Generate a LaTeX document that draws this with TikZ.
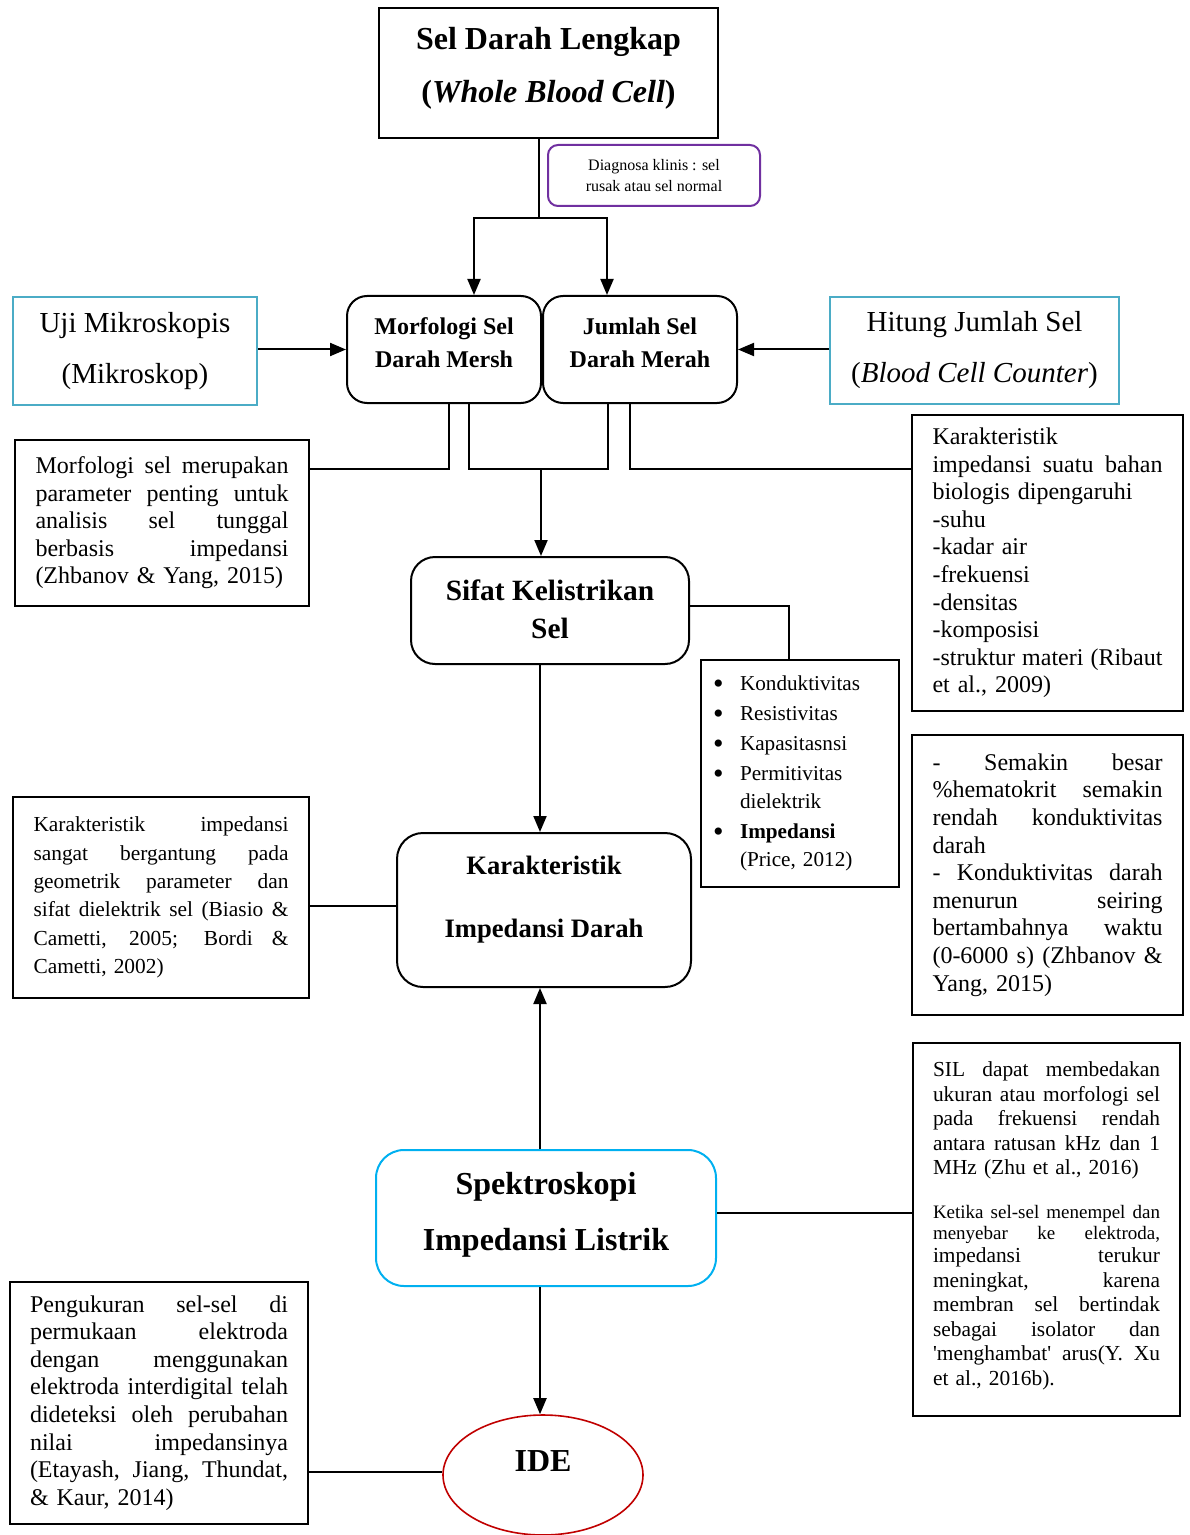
\documentclass[tikz,border=0pt]{standalone}
\usepackage{fontspec}
\setmainfont{Liberation Serif}
\usetikzlibrary{arrows.meta,shapes.geometric}
\definecolor{purp}{HTML}{7030A0}
\definecolor{ujiblue}{HTML}{4BACC6}
\definecolor{spekblue}{HTML}{00B0F0}
\definecolor{idered}{HTML}{C00000}
\newlength{\jw}
\newcommand{\J}[1]{\leavevmode\hbox to \jw{\spaceskip=0pt\xspaceskip=0pt #1}}
\newcommand{\BL}{\makebox[13.5pt][l]{\raisebox{-1.2pt}{\fontsize{15}{14}\selectfont\textbullet}}}
\newcommand{\BI}{\hspace*{13.5pt}}
\begin{document}
\begin{tikzpicture}[x=0.5pt,y=-0.5pt,
  box/.style={draw, line width=1pt, rectangle, inner sep=0pt},
  rbox/.style={draw, line width=1pt, rectangle, rounded corners=#1, inner sep=0pt},
  lbl/.style={inner sep=0pt, align=center},
  conn/.style={line width=1pt},
  arr/.style={line width=1pt, -{Triangle[length=8pt,width=6.5pt]}},
]
\useasboundingbox (0,0) rectangle (1189,1535);
\clip (0,0) rectangle (1189,1535);

% top
\node[box, minimum width=169.5pt, minimum height=65pt] (top) at (548.5,73) {};
\node[lbl, font=\fontsize{16}{26.5}\selectfont\bfseries] (topt) at (548.5,68) {Sel Darah Lengkap\\(\textit{Whole Blood Cell})};

% diagnosa
\node[rbox=5pt, draw=purp, minimum width=106pt, minimum height=30.5pt, font=\fontsize{8}{10.5}\selectfont, align=center] (diag) at (654,175.5) {Diagnosa klinis : sel\\rusak atau sel normal};

% morfologi / jumlah
\node[rbox=10pt, minimum width=97pt, minimum height=53.5pt] (morf) at (444,349.5) {};
\node[lbl, font=\fontsize{12}{16.5}\selectfont\bfseries] (morft) at (444,342.5) {Morfologi Sel\\Darah Mersh};
\node[rbox=10pt, minimum width=97pt, minimum height=53.5pt] (jum) at (640,349.5) {};
\node[lbl, font=\fontsize{12}{16.5}\selectfont\bfseries] (jumt) at (640,342.5) {Jumlah Sel\\Darah Merah};

% uji / hitung
\node[box, draw=ujiblue, minimum width=122pt, minimum height=53.5pt, font=\fontsize{14.5}{25.5}\selectfont, align=center] (uji) at (135,351) {Uji Mikroskopis\\(Mikroskop)};
\node[box, draw=ujiblue, minimum width=144.5pt, minimum height=53.5pt, font=\fontsize{14.5}{25.5}\selectfont, align=center] (hit) at (974.5,350.5) {Hitung Jumlah Sel\\(\textit{Blood Cell Counter})};

% left box 1
\node[box, minimum width=147pt, minimum height=83pt, text width=126.5pt, align=left, font=\fontsize{12}{13.75}\selectfont] (lb1) at (162,523) {\setlength{\jw}{126.5pt}%
\J{Morfologi sel merupakan}\\
\J{parameter penting untuk}\\
\J{analisis sel tunggal}\\
\J{berbasis impedansi}\\
(Zhbanov \& Yang, 2015)};

% right box 1
\node[box, minimum width=135.5pt, minimum height=148pt, text width=115pt, align=left, font=\fontsize{12}{13.8}\selectfont] (rb1) at (1047.5,563) {\setlength{\jw}{115pt}%
Karakteristik\\
\J{impedansi suatu bahan}\\
biologis dipengaruhi\\
-suhu\\
-kadar air\\
-frekuensi\\
-densitas\\
-komposisi\\
\J{-struktur materi (Ribaut}\\
et al., 2009)};

% sifat
\node[rbox=12pt, minimum width=139pt, minimum height=53.5pt] (sifat) at (550,610.5) {};
\node[lbl, font=\fontsize{14.7}{19}\selectfont\bfseries] (sifatt) at (550,609) {Sifat Kelistrikan\\Sel};

% bullet box
\node[box, minimum width=99pt, minimum height=113.5pt, text width=87pt, align=left, font=\fontsize{10.6}{14}\selectfont] (bul) at (800,773.5) {%
\BL Konduktivitas\\[1pt]
\BL Resistivitas\\[1pt]
\BL Kapasitasnsi\\[1pt]
\BL Permitivitas\\
\BI dielektrik\\[1pt]
\BL\textbf{Impedansi}\\
\BI (Price, 2012)};

% karakteristik impedansi darah
\node[rbox=13pt, minimum width=147pt, minimum height=77pt] (kar) at (544,910) {};
\node[lbl, font=\fontsize{13.3}{31.5}\selectfont\bfseries] (kart) at (544,899.5) {Karakteristik\\Impedansi Darah};

% left box 2
\node[box, minimum width=148pt, minimum height=100.5pt, text width=127.5pt, align=left, font=\fontsize{10.7}{14.2}\selectfont] (lb2) at (161,897.5) {\setlength{\jw}{127.5pt}%
\J{Karakteristik impedansi}\\
\J{sangat bergantung pada}\\
\J{geometrik parameter dan}\\
\J{sifat dielektrik sel (Biasio \&}\\
\J{Cametti, 2005; Bordi \&}\\
Cametti, 2002)};

% right box 2
\node[box, minimum width=135.5pt, minimum height=140pt, text width=115pt, align=left, font=\fontsize{12}{13.8}\selectfont] (rb2) at (1047.5,875) {\setlength{\jw}{115pt}%
\J{- Semakin besar}\\
\J{\%hematokrit semakin}\\
\J{rendah konduktivitas}\\
darah\\
\J{- Konduktivitas darah}\\
\J{menurun seiring}\\
\J{bertambahnya waktu}\\
\J{(0-6000 s) (Zhbanov \&}\\
Yang, 2015)};

% spektroskopi
\node[rbox=14pt, draw=spekblue, minimum width=170pt, minimum height=68pt] (spek) at (546,1218) {};
\node[lbl, font=\fontsize{16}{28}\selectfont\bfseries] (spekt) at (546,1215) {Spektroskopi\\Impedansi Listrik};

% SIL box
\node[box, minimum width=133.5pt, minimum height=186.5pt, text width=113.5pt, align=left, font=\fontsize{10.7}{12.3}\selectfont] (sil) at (1046.5,1229.5) {\setlength{\jw}{113.5pt}%
\J{SIL dapat membedakan}\\
\J{ukuran atau morfologi sel}\\
\J{pada frekuensi rendah}\\
\J{antara ratusan kHz dan 1}\\
MHz (Zhu et al., 2016)\\[9.5pt]
{\fontsize{9.5}{10.5}\selectfont\J{Ketika sel-sel menempel dan}}\\[-1.8pt]
{\fontsize{9.5}{10.5}\selectfont\J{menyebar ke elektroda,}}\\[-0.8pt]
\J{impedansi terukur}\\
\J{meningkat, karena}\\
\J{membran sel bertindak}\\
\J{sebagai isolator dan}\\
\J{\textquotesingle menghambat\textquotesingle{} arus(Y. Xu}\\
et al., 2016b).\\[-6.3pt]\mbox{}};

% IDE
\node[ellipse, draw=idered, line width=0.8pt, minimum width=100pt, minimum height=60pt, inner sep=0pt] (ide) at (543,1475) {};
\node[lbl, font=\fontsize{16}{19}\selectfont\bfseries] (idet) at (543,1461) {IDE};

% left box 3
\node[box, minimum width=149pt, minimum height=121pt, text width=129pt, align=left, font=\fontsize{12}{13.8}\selectfont] (lb3) at (159,1403) {\setlength{\jw}{129pt}%
\J{Pengukuran sel-sel di}\\
\J{permukaan elektroda}\\
\J{dengan menggunakan}\\
\J{elektroda interdigital telah}\\
\J{dideteksi oleh perubahan}\\
\J{nilai impedansinya}\\
\J{(Etayash, Jiang, Thundat,}\\
\& Kaur, 2014)};

% connectors
\coordinate (j1) at (539,218);
\coordinate (jl) at (474,218);
\coordinate (jr) at (607,218);
\draw[conn] (top.south -| j1) -- (j1);
\draw[line width=1pt, {Triangle[length=8pt,width=6.5pt]}-{Triangle[length=8pt,width=6.5pt]}] (morf.north -| jl) -- (jl) -- (jr) -- (jum.north -| jr);
\draw[arr] (uji.east |- morf.west) -- (morf.west);
\draw[arr] (hit.west |- jum.east) -- (jum.east);

\coordinate (m1) at (449,469);
\coordinate (m2) at (469,469);
\coordinate (m3) at (608,469);
\coordinate (m4) at (541,469);
\coordinate (m5) at (630,469);
\draw[conn] (morf.south -| m1) -- (m1) -- (m1 -| lb1.east);
\draw[conn] (morf.south -| m2) -- (m2) -- (m3) -- (jum.south -| m3);
\draw[arr] (m4) -- (sifat.north -| m4);
\draw[conn] (jum.south -| m5) -- (m5) -- (m5 -| rb1.west);

\coordinate (s1) at (789,606);
\draw[conn] (sifat.east |- s1) -- (s1) -- (bul.north -| s1);
\coordinate (c540) at (540,0);
\draw[arr] (sifat.south -| c540) -- (kar.north -| c540);
\coordinate (k1) at (0,906);
\draw[conn] (lb2.east |- k1) -- (kar.west |- k1);
\draw[arr] (spek.north -| c540) -- (kar.south -| c540);
\coordinate (s2) at (0,1213);
\draw[conn] (spek.east |- s2) -- (sil.west |- s2);
\draw[arr] (spek.south -| c540) -- (ide.north -| c540);
\coordinate (i1) at (0,1472);
\draw[conn] (lb3.east |- i1) -- (ide.west |- i1);
\end{tikzpicture}
\end{document}
